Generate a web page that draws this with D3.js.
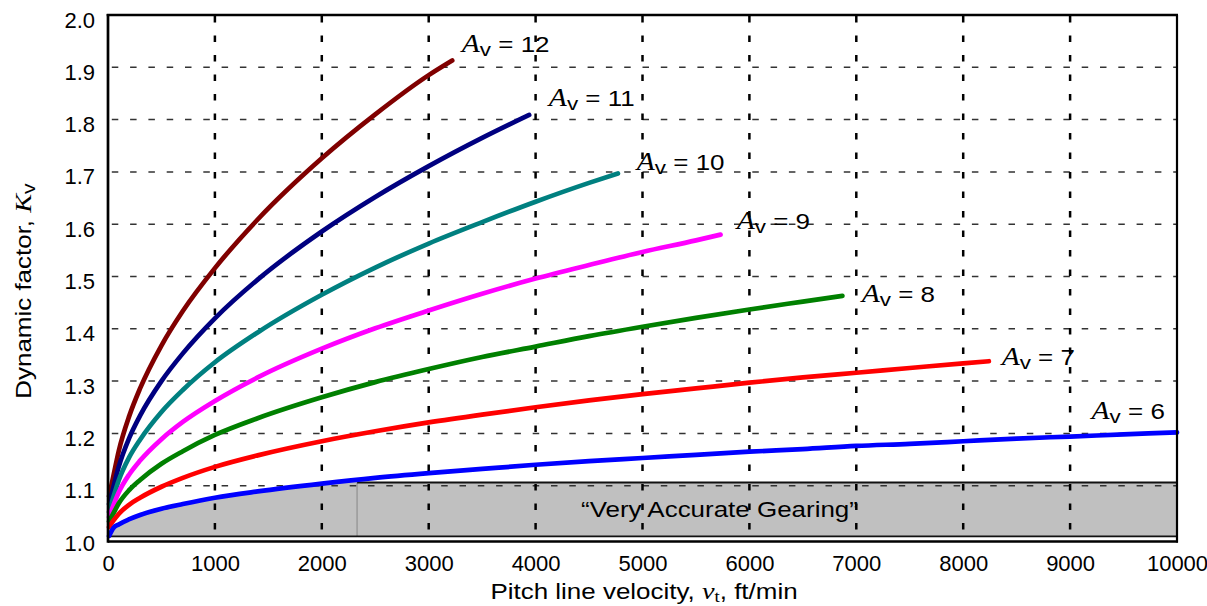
<!DOCTYPE html>
<html><head><meta charset="utf-8">
<script src="https://cdn.jsdelivr.net/npm/d3@7"></script>
<style>
html,body{margin:0;padding:0;background:#fff;}
svg{display:block;}
text{white-space:pre;}
</style></head><body>
<svg id="chart" width="1207" height="606"></svg>
<script>
// ---- data ----
const velocity = [10, 50, 100, 200, 300, 500, 700, 1000, 1400, 2000, 2500, 3000, 3500, 4000, 4500, 5000, 5500, 6000, 6500, 7000, 7500, 8000, 8500, 9000, 9500, 10000];
const seriesNames = ["12", "11", "10", "9", "8", "7", "6"];
const av12 = [1.080, 1.118, 1.166, 1.234, 1.286, 1.368, 1.434, 1.516, 1.609, 1.726, 1.810, 1.885, 1.913];
const av11 = [1.065, 1.097, 1.136, 1.192, 1.234, 1.300, 1.353, 1.420, 1.494, 1.586, 1.652, 1.711, 1.765, 1.809];
const av10 = [1.050, 1.078, 1.110, 1.155, 1.188, 1.241, 1.283, 1.336, 1.393, 1.465, 1.517, 1.563, 1.604, 1.643, 1.679, 1.697];
const av9  = [1.040, 1.062, 1.087, 1.122, 1.148, 1.189, 1.222, 1.262, 1.307, 1.362, 1.401, 1.435, 1.467, 1.496, 1.522, 1.547, 1.569, 1.580];
const av8  = [1.032, 1.047, 1.066, 1.092, 1.111, 1.142, 1.166, 1.197, 1.229, 1.269, 1.298, 1.323, 1.346, 1.366, 1.386, 1.404, 1.421, 1.437, 1.452, 1.463];
const av7  = [1.021, 1.033, 1.046, 1.064, 1.077, 1.098, 1.115, 1.136, 1.158, 1.185, 1.204, 1.221, 1.236, 1.250, 1.263, 1.275, 1.286, 1.297, 1.307, 1.316, 1.325, 1.334, 1.338];
const av6  = [1.004, 1.019, 1.026, 1.036, 1.044, 1.056, 1.065, 1.077, 1.089, 1.104, 1.115, 1.124, 1.132, 1.140, 1.147, 1.153, 1.159, 1.165, 1.170, 1.176, 1.180, 1.185, 1.190, 1.194, 1.198, 1.202];
const endVelocity = [3220, 3940, 4770, 5730, 6870, 8240, 10000];
const labelVelocity = [3310, 4124, 4947, 5882, 7051, 8360, 9201];
const labelKv = [1.929, 1.826, 1.704, 1.591, 1.451, 1.331, 1.228];
const xTicks = [0, 1000, 2000, 3000, 4000, 5000, 6000, 7000, 8000, 9000, 10000];
const yTicks = [1.0, 1.1, 1.2, 1.3, 1.4, 1.5, 1.6, 1.7, 1.8, 1.9, 2.0];
const gearingLevel = 1.106;
const gearingStart = 2330;
const gearingText = "\u201CVery Accurate Gearing\u201D";
const gearingTextAt = [5720, 1.040];

// ---- styles ----
const seriesValues = [av12, av11, av10, av9, av8, av7, av6];
const seriesColors = ["#800000", "#000080", "#008080", "#ff00ff", "#008000", "#ff0000", "#0000ff"];
const SANS = "'Liberation Sans', Arial, Helvetica, sans-serif";
const SERIF = "'Liberation Serif', 'Times New Roman', serif";
const STRETCH = 1.18;

const svg = d3.select("#chart");
const x = d3.scaleLinear().domain([0, 10000]).range([108, 1177]);
const y = d3.scaleLinear().domain([1.0, 2.0]).range([538, 15]);
const [x0, x1] = x.range();
const yTop = y(2.0), yBase = y(1.0), yAxisLine = 541.5;

const seriesPoints = seriesValues.map((vals, s) =>
  vals.map((k, i) => [i < vals.length - 1 ? velocity[i] : endVelocity[s], k]));

// ---- gray "very accurate gearing" region ----
const defs = svg.append("defs");
defs.append("clipPath").attr("id", "leftClip").append("rect")
  .attr("x", x0).attr("y", yTop).attr("width", x(gearingStart) - x0).attr("height", yBase - yTop);
const blue = seriesPoints[6];
svg.append("path")
  .datum(blue)
  .attr("clip-path", "url(#leftClip)")
  .attr("fill", "#c0c0c0")
  .attr("d", d3.area().x(d => x(d[0])).y0(yBase).y1(d => y(d[1])).curve(d3.curveMonotoneX));
svg.append("rect")
  .attr("x", x(gearingStart)).attr("y", y(gearingLevel))
  .attr("width", x1 - x(gearingStart)).attr("height", yBase - y(gearingLevel))
  .attr("fill", "#c0c0c0");
svg.append("line")
  .attr("x1", x(gearingStart)).attr("x2", x(gearingStart))
  .attr("y1", y(gearingLevel)).attr("y2", yBase - 1)
  .attr("stroke", "#858585").attr("stroke-width", 1);

// ---- grid ----
const grid = svg.append("g");
grid.selectAll("line.h").data(yTicks.filter(v => v > 1.0 && v < 2.0)).join("line")
  .attr("class", "h")
  .attr("x1", x0).attr("x2", x1)
  .attr("y1", d => y(d)).attr("y2", d => y(d))
  .attr("stroke", "#333").attr("stroke-width", 1.5)
  .attr("stroke-dasharray", "6.5,11.8").attr("stroke-dashoffset", -3.8);
grid.selectAll("line.v").data(xTicks.filter(v => v > 0 && v < 10000)).join("line")
  .attr("class", "v")
  .attr("x1", d => x(d)).attr("x2", d => x(d))
  .attr("y1", yTop + 1).attr("y2", yAxisLine)
  .attr("stroke", "#000").attr("stroke-width", 2.5)
  .attr("stroke-dasharray", "6.5,13");

// gray box borders
svg.append("line")
  .attr("x1", x(gearingStart)).attr("x2", x1)
  .attr("y1", y(gearingLevel)).attr("y2", y(gearingLevel))
  .attr("stroke", "#111").attr("stroke-width", 2);
svg.append("line")
  .attr("x1", x0).attr("x2", x1)
  .attr("y1", yBase - 1.7).attr("y2", yBase - 1.7)
  .attr("stroke", "#111").attr("stroke-width", 1.6);

// ---- curves ----
const line = d3.line().x(d => x(d[0])).y(d => y(d[1])).curve(d3.curveMonotoneX);
svg.append("g").selectAll("path").data(seriesPoints).join("path")
  .attr("fill", "none")
  .attr("stroke", (d, i) => seriesColors[i])
  .attr("stroke-width", 4.7)
  .attr("stroke-linecap", "round")
  .attr("stroke-linejoin", "round")
  .attr("d", line);

// ---- frame ----
const frame = svg.append("g").attr("stroke", "#000").attr("fill", "none");
frame.append("line").attr("x1", x0 - 1.3).attr("x2", x1 + 1).attr("y1", yTop).attr("y2", yTop).attr("stroke-width", 2.7);
frame.append("line").attr("x1", x1).attr("x2", x1).attr("y1", yTop).attr("y2", yAxisLine + 1).attr("stroke-width", 2.2);
frame.append("line").attr("x1", x0).attr("x2", x0).attr("y1", yTop - 1).attr("y2", yAxisLine + 1.3).attr("stroke-width", 2.7);
frame.append("line").attr("x1", x0).attr("x2", x1 + 1).attr("y1", yAxisLine).attr("y2", yAxisLine).attr("stroke-width", 2.6);

// ---- axes ----
const xAxis = svg.append("g").attr("transform", `translate(0,${yBase})`)
  .call(d3.axisBottom(x).tickValues(xTicks).tickFormat(d3.format("d")).tickSize(0));
xAxis.select(".domain").remove();
xAxis.selectAll("text").attr("y", 33).attr("dy", 0)
  .attr("font-family", SANS).attr("font-size", 22).attr("fill", "#000");

const yAxis = svg.append("g").attr("transform", `translate(95,0)`)
  .call(d3.axisLeft(y).tickValues(yTicks).tickFormat(d3.format(".1f")).tickSize(0));
yAxis.select(".domain").remove();
yAxis.selectAll("text").attr("x", 0).attr("dy", 12)
  .attr("font-family", SANS).attr("font-size", 22).attr("fill", "#000");

// ---- series labels ----
seriesNames.forEach((name, i) => {
  const g = svg.append("g")
    .attr("transform", `translate(${x(labelVelocity[i])},${y(labelKv[i])}) scale(${STRETCH},1)`);
  const t = g.append("text").attr("font-family", SANS).attr("font-size", 22).attr("fill", "#000");
  t.append("tspan").attr("font-family", SERIF).attr("font-style", "italic").attr("font-size", 25).text("A");
  t.append("tspan").attr("font-size", 19).attr("dy", 4).text("v");
  t.append("tspan").attr("dy", -4).text(" = " + name);
});

// ---- gearing text ----
svg.append("g")
  .attr("transform", `translate(${x(gearingTextAt[0])},${y(gearingTextAt[1])}) scale(${STRETCH},1)`)
  .append("text").attr("text-anchor", "middle")
  .attr("font-family", SANS).attr("font-size", 22).attr("fill", "#000")
  .text(gearingText);

// ---- axis titles ----
const xt = svg.append("g").attr("transform", `translate(644,599) scale(${STRETCH},1)`)
  .append("text").attr("text-anchor", "middle").attr("font-family", SANS).attr("font-size", 22).attr("fill", "#000");
xt.append("tspan").text("Pitch line velocity, ");
xt.append("tspan").attr("font-family", SERIF).attr("font-style", "italic").attr("font-size", 24).text("v");
xt.append("tspan").attr("font-family", SERIF).attr("font-size", 16).attr("dy", 3).text("t");
xt.append("tspan").attr("dy", -3).text(", ft/min");

const yt = svg.append("g").attr("transform", `translate(31,291) rotate(-90) scale(${STRETCH},1)`)
  .append("text").attr("text-anchor", "middle").attr("font-family", SANS).attr("font-size", 22).attr("fill", "#000");
yt.append("tspan").text("Dynamic factor, ");
yt.append("tspan").attr("font-family", SERIF).attr("font-style", "italic").attr("font-size", 24).text("K");
yt.append("tspan").attr("font-size", 18).attr("dy", 4).text("v");
</script>
</body></html>
